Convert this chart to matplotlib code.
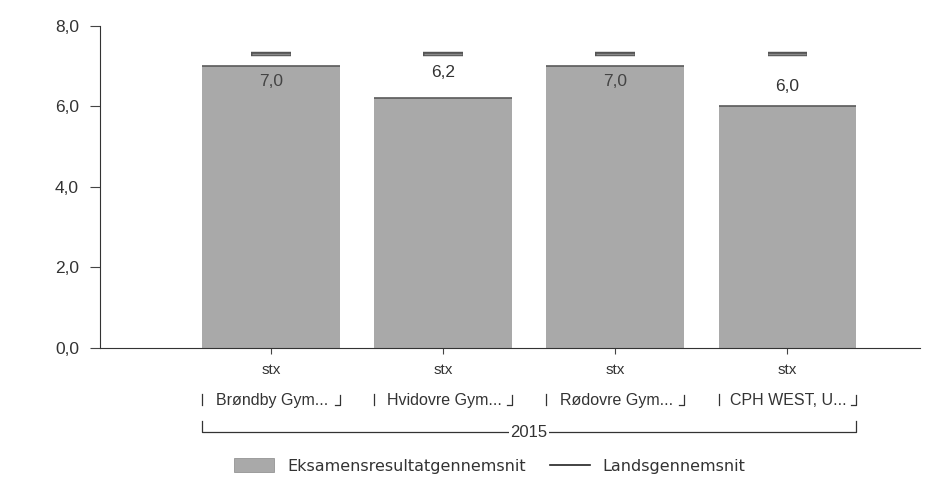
import matplotlib.pyplot as plt
from matplotlib.patches import Patch
from matplotlib.lines import Line2D

# data
schools = ['Brøndby Gym...', 'Hvidovre Gym...', 'Rødovre Gym...', 'CPH WEST, U...']
types = ['stx', 'stx', 'stx', 'stx']
year = '2015'
results = [7.0, 6.2, 7.0, 6.0]
national = [7.3, 7.3, 7.3, 7.3]

plt.rcParams['font.family'] = ['Liberation Sans', 'DejaVu Sans']

fig = plt.figure(figsize=(9.33, 4.88), dpi=100)
ax = fig.add_axes([0.107, 0.287, 0.879, 0.66])

x = list(range(len(results)))
bar_w = 0.8
ax.bar(x, results, width=bar_w, color='#a9a9a9', edgecolor='none', zorder=2)
# dark line along each bar top
ax.hlines(results, [i - bar_w / 2 for i in x], [i + bar_w / 2 for i in x],
          color='#5a5a5a', lw=1.2, zorder=3)
# national average markers
ax.hlines(national, [i - 0.115 for i in x], [i + 0.115 for i in x],
          color='#555555', lw=3.2, zorder=3)
ax.hlines(national, [i - 0.11 for i in x], [i + 0.11 for i in x],
          color='#8a8a8a', lw=1.0, zorder=4)

for i, v in zip(x, results):
    lbl = f'{v:.1f}'.replace('.', ',')
    if v > 6.5:
        ax.text(i, v - 0.2, lbl, ha='center', va='top', fontsize=12.5, color='#444444', zorder=5)
    else:
        ax.text(i, v + 0.32 + (v - 6.0) * 0.7, lbl, ha='center', va='bottom', fontsize=12.5,
                color='#333333', zorder=5)

ax.set_xlim(-0.994, 3.77)
ax.set_ylim(0, 8)
ax.set_yticks([0, 2, 4, 6, 8])
ax.set_yticklabels([f'{t:.1f}'.replace('.', ',') for t in [0, 2, 4, 6, 8]],
                   fontsize=12.5, color='#333333')
ax.set_xticks(x)
ax.set_xticklabels([])
ax.tick_params(axis='x', length=4, color='#444444')
ax.tick_params(axis='y', length=7, color='#444444', pad=8)
for s in ['top', 'right']:
    ax.spines[s].set_visible(False)
ax.spines['left'].set_color('#333333')
ax.spines['bottom'].set_color('#333333')

# multi-level category labels
for i in x:
    ax.text(i, -0.55, types[i], ha='center', va='center', fontsize=11, color='#333333')
    ax.text(i + 0.005, -1.3, schools[i], ha='center', va='center', fontsize=11.5, color='#333333')
    l, r = i - 0.4, i + 0.4
    ax.plot([l, l], [-1.15, -1.42], color='#333333', lw=0.9, clip_on=False)
    ax.plot([r, r, r - 0.03], [-1.18, -1.42, -1.42], color='#333333', lw=0.9, clip_on=False)

ax.plot([-0.4, -0.4, 3.4, 3.4], [-1.82, -2.09, -2.09, -1.82], color='#333333', lw=0.9, clip_on=False)
ax.text(1.5, -2.09, year, ha='center', va='center', fontsize=12, color='#333333',
        bbox=dict(facecolor='white', edgecolor='none', pad=1))

handles = [Patch(facecolor='#a9a9a9', edgecolor='#888888', lw=0.5),
           Line2D([0], [0], color='#222222', lw=1.2)]
fig.legend(handles, ['Eksamensresultatgennemsnit', 'Landsgennemsnit'],
           loc='lower center', bbox_to_anchor=(0.525, 0.0), ncol=2, frameon=False,
           prop={'family': 'DejaVu Sans', 'size': 11.5}, handlelength=2.5,
           handleheight=0.9, columnspacing=1.5, labelcolor='#333333')

fig.savefig('out.png', dpi=100)
